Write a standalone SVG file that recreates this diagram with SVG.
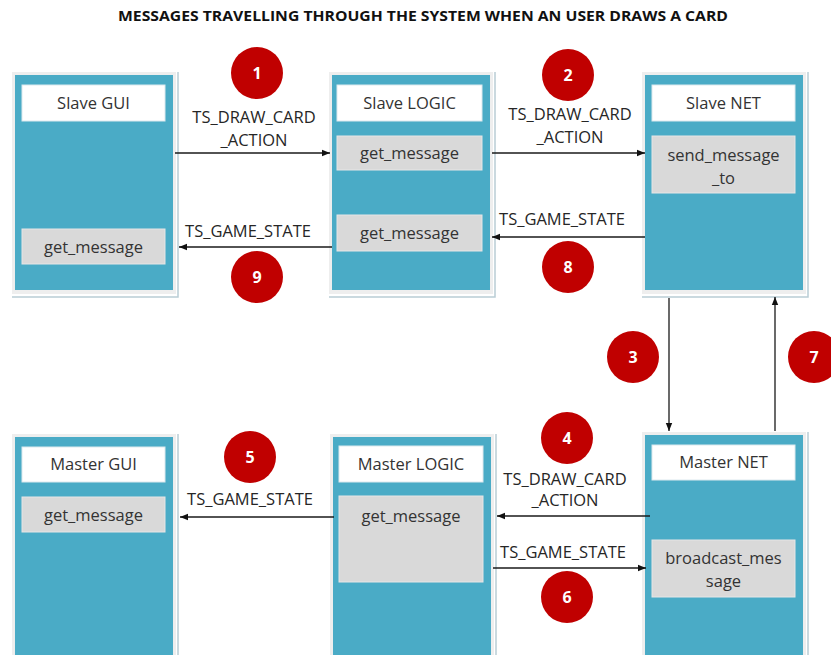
<svg xmlns="http://www.w3.org/2000/svg" width="831" height="655" viewBox="0 0 831 655">
<style>
  .frame { fill: #eeeeee; }
  .shadow { fill: none; stroke: #b9cdd5; stroke-width: 1.5; }
  .teal { fill: #4aabc6; }
  .head { fill: #ffffff; stroke: #dce9ee; stroke-width: 1; }
  .fn { fill: #d9d9d9; stroke: #e6e6e6; stroke-width: 1; }
  .t { font-family: "Open Sans", "Liberation Sans", sans-serif; font-size: 16.5px; fill: #333333; text-anchor: middle; }
  .lbl { font-family: "Open Sans", "Liberation Sans", sans-serif; font-size: 16.5px; fill: #262626; text-anchor: middle; }
  .title { font-family: "Open Sans", "Liberation Sans", sans-serif; font-size: 15px; font-weight: bold; fill: #111111; text-anchor: middle; }
  .badge circle { fill: #c00000; }
  .badge text { font-family: "Open Sans", "Liberation Sans", sans-serif; font-size: 16px; font-weight: bold; fill: #ffffff; text-anchor: middle; }
  .conn { stroke: #1a1a1a; stroke-width: 1.3; fill: none; marker-end: url(#ah); }
</style>
<defs>
  <marker id="ah" viewBox="0 0 10 10" refX="10" refY="5" markerWidth="8" markerHeight="8" markerUnits="userSpaceOnUse" orient="auto">
    <path d="M0,1 L10,5 L0,9 Z" fill="#111111"/>
  </marker>
</defs>
<rect width="831" height="655" fill="#ffffff"/>
<text class="title" x="423" y="21" textLength="610" lengthAdjust="spacingAndGlyphs">MESSAGES TRAVELLING THROUGH THE SYSTEM WHEN AN USER DRAWS A CARD</text>

<g id="slave-gui">
  <path class="shadow" d="M178,72 V297 H12"/>
  <rect class="frame" x="12" y="72" width="164" height="222"/>
  <rect class="teal" x="15" y="75" width="158" height="215"/>
  <rect class="head" x="22" y="85" width="143" height="36"/>
  <text class="t" x="93.5" y="109">Slave GUI</text>
  <rect class="fn" x="22" y="229" width="143" height="35"/>
  <text class="t" x="93.5" y="253">get_message</text>
</g>

<g id="slave-logic">
  <path class="shadow" d="M495,72 V297 H329"/>
  <rect class="frame" x="329" y="72" width="164" height="222"/>
  <rect class="teal" x="332" y="75" width="158" height="215"/>
  <rect class="head" x="337" y="85" width="145" height="36"/>
  <text class="t" x="409.5" y="109">Slave LOGIC</text>
  <rect class="fn" x="337" y="136" width="145" height="34"/>
  <text class="t" x="409.5" y="159">get_message</text>
  <rect class="fn" x="337" y="215" width="145" height="36"/>
  <text class="t" x="409.5" y="239">get_message</text>
</g>

<g id="slave-net">
  <path class="shadow" d="M808,72 V297 H642"/>
  <rect class="frame" x="642" y="72" width="164" height="222"/>
  <rect class="teal" x="645" y="75" width="158" height="215"/>
  <rect class="head" x="652" y="85" width="143" height="36"/>
  <text class="t" x="723.5" y="109">Slave NET</text>
  <rect class="fn" x="652" y="136" width="143" height="57"/>
  <text class="t" x="723.5" y="161">send_message</text>
  <text class="t" x="723.5" y="184">_to</text>
</g>

<g id="master-gui">
  <path class="shadow" d="M178,434 V660"/>
  <rect class="frame" x="12" y="434" width="164" height="230"/>
  <rect class="teal" x="15" y="437" width="158" height="225"/>
  <rect class="head" x="22" y="447" width="143" height="35"/>
  <text class="t" x="93.5" y="470">Master GUI</text>
  <rect class="fn" x="22" y="497" width="143" height="35"/>
  <text class="t" x="93.5" y="521">get_message</text>
</g>

<g id="master-logic">
  <path class="shadow" d="M496,434 V660"/>
  <rect class="frame" x="330" y="434" width="164" height="230"/>
  <rect class="teal" x="333" y="437" width="158" height="225"/>
  <rect class="head" x="339" y="446" width="144" height="36"/>
  <text class="t" x="411" y="470">Master LOGIC</text>
  <rect class="fn" x="339" y="496" width="144" height="86"/>
  <text class="t" x="411" y="522">get_message</text>
</g>

<g id="master-net">
  <path class="shadow" d="M808,432 V660"/>
  <rect class="frame" x="642" y="432" width="164" height="230"/>
  <rect class="teal" x="645" y="435" width="158" height="225"/>
  <rect class="head" x="652" y="445" width="143" height="35"/>
  <text class="t" x="723.5" y="468">Master NET</text>
  <rect class="fn" x="652" y="540" width="143" height="57"/>
  <text class="t" x="723.5" y="564">broadcast_mes</text>
  <text class="t" x="723.5" y="587">sage</text>
</g>

<g id="connectors">
  <line class="conn" x1="175" y1="153" x2="330" y2="153"/>
  <line class="conn" x1="492" y1="153" x2="645" y2="153"/>
  <line class="conn" x1="645" y1="237" x2="492" y2="237"/>
  <line class="conn" x1="332" y1="247" x2="179" y2="247"/>
  <line class="conn" x1="669" y1="298" x2="669" y2="431"/>
  <line class="conn" x1="775" y1="431" x2="775" y2="297"/>
  <line class="conn" x1="650" y1="516" x2="497" y2="516"/>
  <line class="conn" x1="334" y1="517" x2="180" y2="517"/>
  <line class="conn" x1="493" y1="568" x2="646" y2="568"/>
  <text class="lbl" x="254" y="123">TS_DRAW_CARD</text>
  <text class="lbl" x="254" y="146">_ACTION</text>
  <text class="lbl" x="570" y="120">TS_DRAW_CARD</text>
  <text class="lbl" x="570" y="143">_ACTION</text>
  <text class="lbl" x="562" y="225">TS_GAME_STATE</text>
  <text class="lbl" x="248" y="237">TS_GAME_STATE</text>
  <text class="lbl" x="565" y="485">TS_DRAW_CARD</text>
  <text class="lbl" x="565" y="506">_ACTION</text>
  <text class="lbl" x="250" y="505">TS_GAME_STATE</text>
  <text class="lbl" x="563" y="558">TS_GAME_STATE</text>
</g>

<g id="badges" class="badge">
  <g id="b1"><circle cx="257" cy="73" r="26"/><text x="257" y="79">1</text></g>
  <g id="b2"><circle cx="568" cy="75" r="26"/><text x="568" y="81">2</text></g>
  <g id="b3"><circle cx="633" cy="357" r="26"/><text x="633" y="363">3</text></g>
  <g id="b4"><circle cx="567" cy="438" r="26"/><text x="567" y="444">4</text></g>
  <g id="b5"><circle cx="250" cy="457" r="26"/><text x="250" y="463">5</text></g>
  <g id="b6"><circle cx="567" cy="597" r="26"/><text x="567" y="603">6</text></g>
  <g id="b7"><circle cx="814" cy="357" r="26"/><text x="814" y="363">7</text></g>
  <g id="b8"><circle cx="568" cy="267" r="26"/><text x="568" y="273">8</text></g>
  <g id="b9"><circle cx="257" cy="277" r="26"/><text x="257" y="283">9</text></g>
</g>
</svg>
